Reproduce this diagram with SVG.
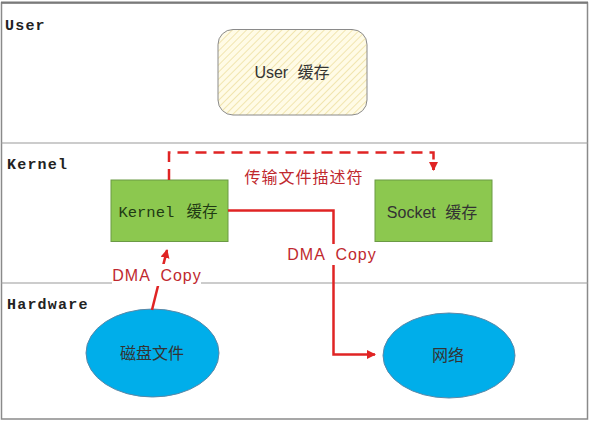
<svg xmlns="http://www.w3.org/2000/svg" width="590" height="422" viewBox="0 0 590 422">
<style>
.lane{font-family:"Liberation Mono","Noto Sans CJK SC",monospace;font-weight:bold;font-size:15px;fill:#222;letter-spacing:1.2px}
.t{font-family:"Liberation Sans","Noto Sans CJK SC",sans-serif;font-size:16px;fill:#333;text-anchor:middle;dominant-baseline:central}
.mono{font-family:"Liberation Mono","Noto Sans CJK SC",monospace;font-size:15.5px;fill:#1f3a14;text-anchor:middle;dominant-baseline:central}
.red{font-family:"Liberation Sans","Noto Sans CJK SC",sans-serif;font-size:16px;fill:#c0282e;text-anchor:middle;dominant-baseline:central}
.box{fill:#8cc84f;stroke:#6b9a45;stroke-width:1}
.ell{fill:#00aeea;stroke:#5a88a8;stroke-width:1}
.wire{fill:none;stroke:#e02424;stroke-width:2.5}
</style>
<defs>
<pattern id="hatch" width="5" height="5" patternUnits="userSpaceOnUse" patternTransform="rotate(45)">
<rect width="5" height="5" fill="#fffbe6"/>
<line x1="0" y1="0" x2="0" y2="5" stroke="#e8d68a" stroke-width="1.2"/>
</pattern>
<marker id="ah" markerWidth="10" markerHeight="10" refX="8" refY="4.5" orient="auto" markerUnits="userSpaceOnUse">
<path d="M0,0 L9,4.5 L0,9 Z" fill="#e02424"/>
</marker>
</defs>
<rect x="0" y="0" width="590" height="422" fill="#fff"/>
<g id="frame">
<rect x="1.5" y="3" width="586" height="416" fill="none" stroke="#8a8a8a" stroke-width="1.5"/>
<line x1="1" y1="2.5" x2="588" y2="2.5" stroke="#7a7a7a" stroke-width="2"/>
<line x1="1" y1="143" x2="588" y2="143" stroke="#999" stroke-width="1.2"/>
<line x1="1" y1="283" x2="588" y2="283" stroke="#999" stroke-width="1.2"/>
<text class="lane" x="5" y="30">User</text>
<text class="lane" x="7" y="169">Kernel</text>
<text class="lane" x="7" y="309">Hardware</text>
</g>
<g id="user-cache">
<rect x="218" y="29.5" width="149" height="85.5" rx="15" ry="15" fill="url(#hatch)" stroke="#8a8a8a" stroke-width="1"/>
<text class="t" x="292" y="72" word-spacing="5">User 缓存</text>
</g>
<g id="kernel-cache">
<rect class="box" x="111" y="180" width="117" height="61.5"/>
<text class="mono" x="168" y="213" word-spacing="3">Kernel 缓存</text>
</g>
<g id="socket-cache">
<rect class="box" x="375" y="180" width="117" height="61.5"/>
<text class="t" x="432" y="212" word-spacing="5">Socket 缓存</text>
</g>
<g id="disk">
<ellipse class="ell" cx="152.5" cy="353" rx="66.5" ry="44"/>
<text class="t" x="152" y="353" font-size="16.5">磁盘文件</text>
</g>
<g id="network">
<ellipse class="ell" cx="449" cy="355.5" rx="66" ry="42.5"/>
<text class="t" x="448" y="355" font-size="16.5">网络</text>
</g>
<g id="connectors">
<path class="wire" d="M169,180 V152.5 H433.5 V170" stroke-dasharray="11,7"/>
<path class="wire" d="M433.5,168 V170" marker-end="url(#ah)"/>
<path class="wire" d="M228,210.5 H333.5 V354.5 H375" marker-end="url(#ah)"/>
<path class="wire" d="M152,310 L167,250" marker-end="url(#ah)"/>
<rect x="112" y="264" width="89" height="22" fill="#fff"/>
<text class="red" x="157" y="275" letter-spacing="1" word-spacing="5">DMA Copy</text>
<rect x="288" y="244" width="88" height="21" fill="#fff"/>
<text class="red" x="332" y="254.5" letter-spacing="1" word-spacing="5">DMA Copy</text>
<text class="red" x="304" y="177" letter-spacing="1">传输文件描述符</text>
</g>
</svg>
